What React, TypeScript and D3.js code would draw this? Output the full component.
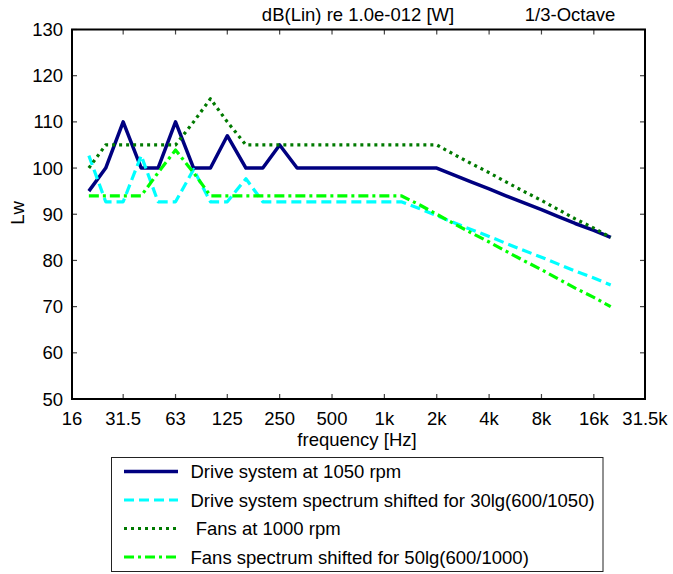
import React from 'react';
import * as d3 from 'd3';

// 1/3-octave band centre frequencies [Hz]
const freqs = [20, 25, 31.5, 40, 50, 63, 80, 100, 125, 160, 200, 250, 315, 400, 500, 630, 800, 1000,
  1250, 1600, 2000, 2500, 3150, 4000, 5000, 6300, 8000, 10000, 12500, 16000, 20000];

const driveSystem = [95, 100, 110, 100, 100, 110, 100, 100, 107, 100, 100, 105, 100, 100, 100, 100, 100, 100,
  100, 100, 100, 98.5, 97, 95.5, 94, 92.5, 91, 89.5, 88, 86.5, 85];
const driveShifted = [102.7, 92.7, 92.7, 102.7, 92.7, 92.7, 99.7, 92.7, 92.7, 97.7, 92.7, 92.7, 92.7, 92.7, 92.7, 92.7, 92.7, 92.7,
  92.7, 91.2, 89.7, 88.2, 86.7, 85.2, 83.7, 82.2, 80.7, 79.2, 77.7, 76.2, 74.7];
const fans = [100, 105, 105, 105, 105, 105, 110, 115, 110, 105, 105, 105, 105, 105, 105, 105, 105, 105,
  105, 105, 105, 103, 101, 99, 97, 95, 93, 91, 89, 87, 85];
const fansShifted = [94, 94, 94, 94, 99, 103.9, 99, 94, 94, 94, 94, 94, 94, 94, 94, 94, 94, 94,
  94, 92, 90, 88, 86, 84, 82, 80, 78, 76, 74, 72, 70];

const xTickValues = [16, 31.5, 63, 125, 250, 500, 1000, 2000, 4000, 8000, 16000, 31500];
const xTickLabels = ['16', '31.5', '63', '125', '250', '500', '1k', '2k', '4k', '8k', '16k', '31.5k'];
const yTickValues = [50, 60, 70, 80, 90, 100, 110, 120, 130];

const seriesNames = [
  'Drive system at 1050 rpm',
  'Drive system spectrum shifted for 30lg(600/1050)',
  ' Fans at 1000 rpm',
  'Fans spectrum shifted for 50lg(600/1000)',
];

const width = 673;
const height = 574;
const plot = { left: 72, right: 645, top: 29.5, bottom: 399 };
const font = '"Liberation Sans", Arial, Helvetica, sans-serif';

const styles = [
  { color: '#000080', dash: null, width: 3.5 },
  { color: '#00ffff', dash: '10,5', width: 3.2 },
  { color: '#007a00', dash: '3,4', width: 3.2 },
  { color: '#00ff00', dash: '10,4,3,4', width: 3.2 },
];

export default function App() {
  const x = d3.scaleLog().domain([16, 31500]).range([plot.left, plot.right]);
  const y = d3.scaleLinear().domain([50, 130]).range([plot.bottom, plot.top]);

  const line = d3.line<number>()
    .x((_, i) => x(freqs[i]))
    .y((d) => y(d));

  const allSeries = [driveSystem, driveShifted, fans, fansShifted];

  return (
    <svg width={width} height={height} style={{ position: 'absolute', left: 0, top: 0, background: '#fff' }}
      fontFamily={font}>
      <rect x={0} y={0} width={width} height={height} fill="#fff" />

      {/* titles */}
      <text x={358} y={21} fontSize={18.5} textAnchor="middle">dB(Lin) re 1.0e-012 [W]</text>
      <text x={570} y={21} fontSize={18.5} textAnchor="middle">1/3-Octave</text>

      {/* data lines */}
      {allSeries.map((s, i) => (
        <path key={i} d={line(s) || ''} fill="none" stroke={styles[i].color}
          strokeWidth={styles[i].width} strokeDasharray={styles[i].dash || undefined}
          strokeLinejoin="round" />
      ))}

      {/* ticks, inward on all sides */}
      {xTickValues.map((v, i) => (
        <g key={'xt' + i}>
          <line x1={x(v)} x2={x(v)} y1={plot.bottom} y2={plot.bottom - 5} stroke="#444" strokeWidth={1.2} />
          <line x1={x(v)} x2={x(v)} y1={plot.top} y2={plot.top + 5} stroke="#444" strokeWidth={1.2} />
          <text x={x(v)} y={425} fontSize={18.5} textAnchor="middle">{xTickLabels[i]}</text>
        </g>
      ))}
      {yTickValues.map((v) => (
        <g key={'yt' + v}>
          <line x1={plot.left} x2={plot.left + 5} y1={y(v)} y2={y(v)} stroke="#444" strokeWidth={1.2} />
          <line x1={plot.right} x2={plot.right - 5} y1={y(v)} y2={y(v)} stroke="#444" strokeWidth={1.2} />
          <text x={63} y={y(v) + 6.5} fontSize={18.5} textAnchor="end">{v}</text>
        </g>
      ))}

      {/* frame */}
      <rect x={plot.left} y={plot.top} width={plot.right - plot.left} height={plot.bottom - plot.top}
        fill="none" stroke="#000" strokeWidth={2} />

      {/* axis titles */}
      <text x={357} y={446} fontSize={18.5} textAnchor="middle">frequency [Hz]</text>
      <text transform="translate(24,213) rotate(-90)" fontSize={18.5} textAnchor="middle">Lw</text>

      {/* legend */}
      <rect x={111.5} y={457.5} width={491.5} height={114} fill="#fff" stroke="#222" strokeWidth={1} />
      {seriesNames.map((name, i) => {
        const ly = [471.5, 500, 528.5, 557][i];
        return (
          <g key={'lg' + i}>
            <line x1={124} x2={178} y1={ly} y2={ly} stroke={styles[i].color}
              strokeWidth={styles[i].width} strokeDasharray={styles[i].dash || undefined} />
            <text x={190.5} y={ly + 6.5} fontSize={18.5} style={{ whiteSpace: 'pre' }}>{name}</text>
          </g>
        );
      })}
    </svg>
  );
}
